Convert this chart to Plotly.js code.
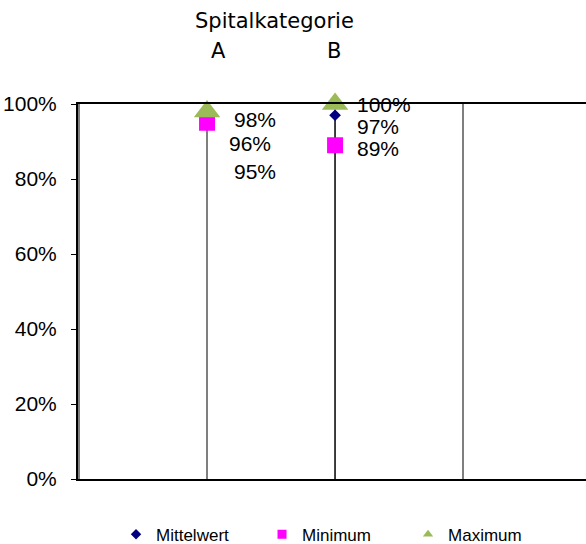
<!DOCTYPE html>
<html>
<head>
<meta charset="utf-8">
<script src="https://cdn.plot.ly/plotly-3.0.1.min.js"></script>
<style>html,body{margin:0;padding:0;background:#fff;}#chart{width:586px;height:544px;}</style>
</head>
<body>
<div id="chart"></div>
<script>
// ---- data ----
const categories = ['A', 'B'];
const mittelwert = [96, 97];
const minimum = [95, 89];
const maximum = [98, 100];
const seriesNames = ['Mittelwert', 'Minimum', 'Maximum'];
const axisTitle = 'Spitalkategorie';
const yTickVals = [0, 20, 40, 60, 80, 100];

// ---- styles ----
const colors = { mean: '#000080', min: '#FF00FF', max: '#9BBB59' };
const labelFont = { family: 'Liberation Sans, Arial, sans-serif', size: 21, color: '#000' };
const catFont = { family: 'DejaVu Sans, Verdana, sans-serif', size: 21, color: '#000' };
const labelShifts = {
  mean: [[43, -24], [43, -11]],
  min: [[48, -49], [43, -3]],
  max: [[48, -8], [49, 0]]
};
const catLabelShift = [11, -1.5];

const xs = categories.map((c, i) => i);
const pct = v => v / 100;

const traces = [];
// drop line for B (baseline to mean)
traces.push({
  x: [xs[1], xs[1]], y: [0, pct(mittelwert[1])],
  mode: 'lines', line: { color: '#000', width: 1 }, showlegend: false, hoverinfo: 'skip'
});
traces.push({
  x: xs, y: mittelwert.map(pct), mode: 'markers', name: seriesNames[0], showlegend: false,
  marker: { symbol: 'diamond', size: 9, color: colors.mean }, cliponaxis: false
});
traces.push({
  x: xs, y: minimum.map(pct), mode: 'markers', name: seriesNames[1], showlegend: false,
  marker: { symbol: 'square', size: 16, color: colors.min }, cliponaxis: false
});
traces.push({
  x: xs, y: maximum.map(pct), mode: 'markers', name: seriesNames[2], showlegend: false,
  marker: { symbol: 'triangle-up', size: 23, color: colors.max }, cliponaxis: false
});
// legend-only entries with small symbols
[['diamond', colors.mean, 8], ['square', colors.min, 9], ['triangle-up', colors.max, 9]].forEach((s, i) => {
  traces.push({
    x: [null], y: [null], mode: 'markers', name: seriesNames[i], showlegend: true,
    marker: { symbol: s[0], size: s[2], color: s[1] }
  });
});

const annotations = [];
function addLabels(vals, key) {
  vals.forEach((v, i) => {
    annotations.push({
      xref: 'x', yref: 'y', x: xs[i], y: pct(v), text: v + '%', showarrow: false,
      xanchor: 'center', yanchor: 'middle', xshift: labelShifts[key][i][0], yshift: labelShifts[key][i][1],
      font: labelFont
    });
  });
}
addLabels(maximum, 'max');
addLabels(mittelwert, 'mean');
addLabels(minimum, 'min');
categories.forEach((c, i) => {
  annotations.push({
    xref: 'x', yref: 'paper', x: xs[i], y: 1, yshift: 53, xshift: catLabelShift[i],
    text: c, showarrow: false, xanchor: 'center', yanchor: 'middle', font: catFont
  });
});
annotations.push({
  xref: 'x', yref: 'paper', x: (xs[0] + xs[1]) / 2, y: 1, yshift: 83, xshift: 3.5,
  text: axisTitle, showarrow: false, xanchor: 'center', yanchor: 'middle', font: catFont
});

const layout = {
  width: 586, height: 544,
  margin: { l: 78, r: 0, t: 104, b: 65, autoexpand: false },
  paper_bgcolor: '#fff', plot_bgcolor: '#fff',
  showlegend: true,
  legend: {
    orientation: 'h', xref: 'container', yref: 'container',
    x: 0.198, xanchor: 'left', y: 0.017, yanchor: 'middle',
    font: { family: 'Liberation Sans, Arial, sans-serif', size: 17, color: '#000' },
    itemsizing: 'trace', entrywidth: 101, entrywidthmode: 'pixels', traceorder: 'normal'
  },
  xaxis: {
    type: 'linear', range: [-1.008, 2.96], tick0: 0, dtick: 1,
    showgrid: true, gridcolor: '#7f7f7f', gridwidth: 1.3,
    showline: true, mirror: true, linecolor: '#000', linewidth: 2,
    ticks: '', showticklabels: false, zeroline: false, fixedrange: true
  },
  yaxis: {
    range: [0, 1], tickvals: yTickVals.map(pct), ticktext: yTickVals.map(v => v + '%'),
    showgrid: false, zeroline: false,
    showline: true, linecolor: '#000', linewidth: 2,
    ticks: 'outside', ticklen: 5, tickwidth: 1, tickcolor: '#000', ticklabelstandoff: 10,
    tickfont: labelFont, fixedrange: true
  },
  annotations: annotations
};

Plotly.newPlot('chart', traces, layout, { displayModeBar: false, staticPlot: true });
</script>
</body>
</html>
